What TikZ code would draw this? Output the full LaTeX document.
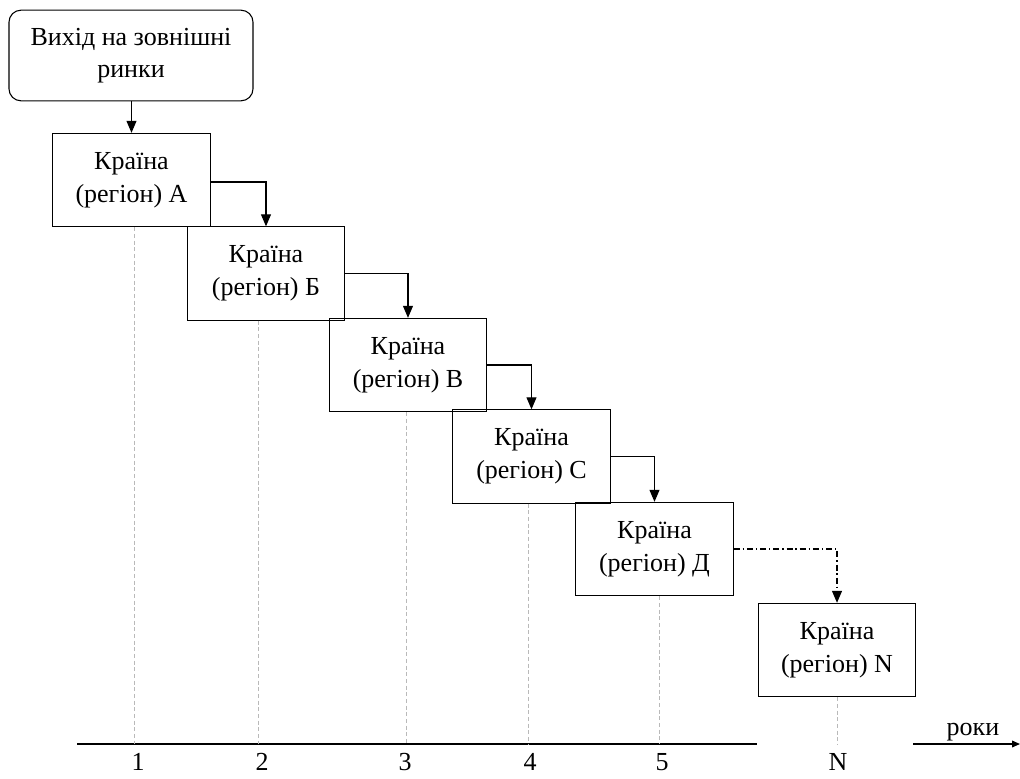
\documentclass[tikz,border=0pt]{standalone}
\usepackage{fontspec}
\setmainfont{Liberation Serif}
\usetikzlibrary{arrows.meta}
\begin{document}
\begin{tikzpicture}[x=0.75pt,y=-0.75pt,
  txt/.style={font=\fontsize{19.5}{24.5}\selectfont, align=center},
  box/.style={txt, draw, line width=0.8pt, minimum width=118pt, minimum height=70pt, inner sep=0pt},
  startbox/.style={txt, draw, line width=0.8pt, rounded corners=9pt, minimum width=183pt, minimum height=68pt, inner sep=0pt},
  flow/.style={line width=0.8pt, -{Triangle[length=9pt,width=7.5pt]}},
  flowdashdot/.style={flow, dash pattern=on 4.5pt off 2.2pt on 1pt off 2.2pt},
  guide/.style={gray!55, line width=0.5pt, dash pattern=on 3pt off 2pt},
  axis/.style={line width=1.1pt},
  ticklabel/.style={font=\fontsize{19.5}{24.5}\selectfont, inner sep=0pt, anchor=base}
]
\useasboundingbox (0,0) rectangle (1020,778);

% start of the process
\node[startbox] (start) at (131,55.5) {Вихід на зовнішні\\ринки};

% country boxes, one step per year
\node[box] (a) at (131.5,180)   {Країна\\(регіон) А};
\node[box] (b) at (266,273.5)   {Країна\\(регіон) Б};
\node[box] (c) at (408,365)     {Країна\\(регіон) В};
\node[box] (d) at (531.5,456.5) {Країна\\(регіон) С};
\node[box] (e) at (654.5,549)   {Країна\\(регіон) Д};
\node[box] (n) at (837,650)     {Країна\\(регіон) N};

% connectors
\draw[flow] (start.south -| a.north) -- (a.north);
\draw[flow] ([yshift=-1.5pt]a.east) -| (b.north);
\draw[flow] (b.east) -| (c.north);
\draw[flow] (c.east) -| (d.north);
\draw[flow] (d.east) -| (e.north);
\draw[flowdashdot] (e.east) -| (n.north);

% time axis
\coordinate (ax0) at (77,744);
\coordinate (ax1) at (757,744);
\coordinate (ay0) at (913,744);
\coordinate (ay1) at (1020,744);
\draw[axis] (ax0) -- (ax1);
\draw[axis, -{Triangle[length=6pt,width=5pt]}] (ay0) -- (ay1);
\node[ticklabel] (years) at (973,735) {роки};

% year ticks
\coordinate (t1) at (134,744);
\coordinate (t2) at (258,744);
\coordinate (t3) at (406,744);
\coordinate (t4) at (528,744);
\coordinate (t5) at (659,744);
\coordinate (tn) at (837,744);

\draw[guide] (t1 |- a.south) -- (t1);
\draw[guide] (t2 |- b.south) -- (t2);
\draw[guide] (t3 |- c.south) -- (t3);
\draw[guide] (t4 |- d.south) -- (t4);
\draw[guide] (t5 |- e.south) -- (t5);
\draw[guide] (tn |- n.south) -- (tn);

\node[ticklabel] (l1) at (138,770) {1};
\node[ticklabel] (l2) at (262,770) {2};
\node[ticklabel] (l3) at (405,770) {3};
\node[ticklabel] (l4) at (530,770) {4};
\node[ticklabel] (l5) at (662,770) {5};
\node[ticklabel] (ln) at (838,770) {N};
\end{tikzpicture}
\end{document}
